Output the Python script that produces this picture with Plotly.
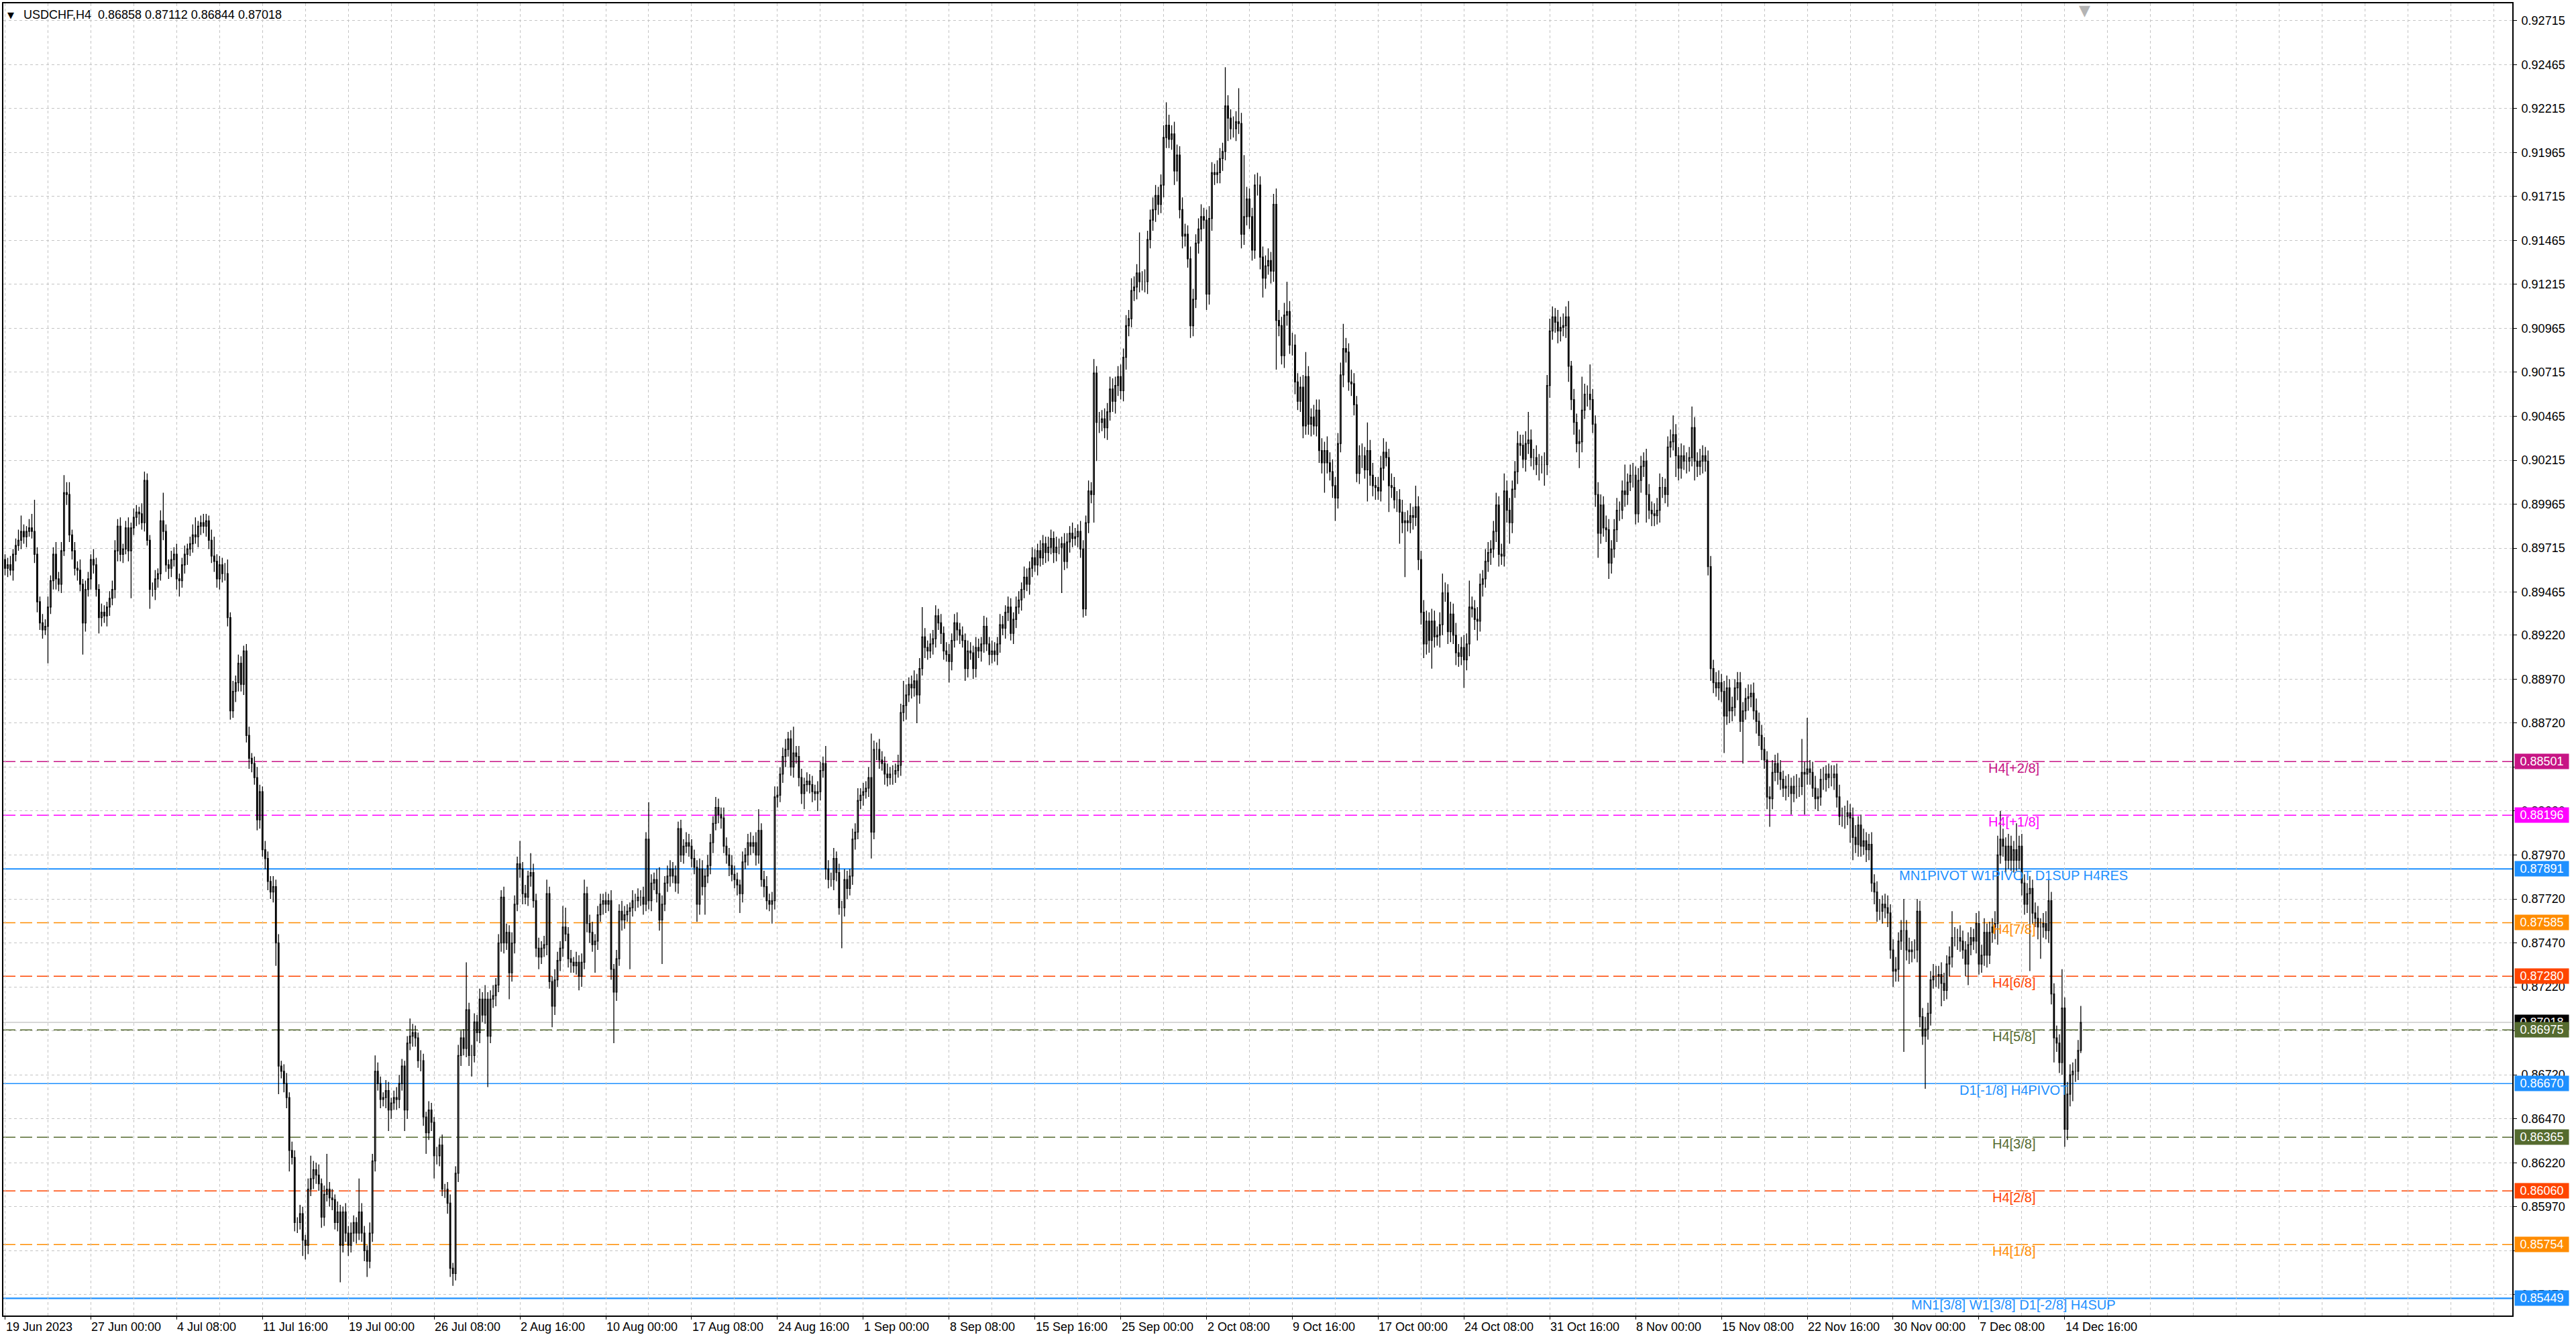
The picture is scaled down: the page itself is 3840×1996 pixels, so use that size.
import plotly.graph_objects as go

# ---------------- data (prices in 1e-5 units) ----------------
first_open = 89650
close_pts = [
    89600, 89620, 89590, 89680, 89730, 89760, 89810, 89780, 89810, 89830,  # 0
    89810, 89680, 89410, 89290, 89250, 89270, 89380, 89530, 89680, 89540,  # 10
    89510, 89700, 90030, 90020, 89790, 89700, 89600, 89590, 89510, 89290,  # 20
    89480, 89540, 89650, 89620, 89480, 89320, 89350, 89330, 89380, 89430,  # 30
    89480, 89700, 89840, 89680, 89710, 89830, 89700, 89830, 89890, 89920,  # 40
    89910, 89860, 90100, 89760, 89480, 89480, 89540, 89570, 89870, 89810,  # 50
    89620, 89600, 89650, 89680, 89540, 89530, 89620, 89680, 89710, 89740,  # 60
    89790, 89780, 89840, 89860, 89840, 89870, 89760, 89670, 89640, 89540,  # 70
    89620, 89570, 89570, 89320, 88790, 88900, 88950, 89060, 88940, 89130,  # 80
    88650, 88520, 88490, 88410, 88170, 88330, 88000, 87950, 87820, 87760,  # 90
    87790, 87470, 86770, 86740, 86670, 86590, 86290, 86250, 85880, 85880,  # 100
    85930, 85780, 85750, 86070, 86130, 86180, 86150, 86100, 85910, 86040,  # 110
    86070, 86020, 86010, 85880, 85940, 85750, 85940, 85820, 85750, 85820,  # 120
    85880, 85820, 85940, 85820, 85720, 85660, 85820, 86230, 86740, 86670,  # 130
    86580, 86590, 86630, 86520, 86560, 86590, 86580, 86670, 86770, 86520,  # 140
    86900, 86940, 86960, 86930, 86800, 86800, 86480, 86390, 86520, 86450,  # 150
    86260, 86260, 86320, 86070, 86070, 85990, 85620, 85590, 86160, 86830,  # 160
    86930, 86870, 87090, 86830, 86830, 87020, 86960, 87150, 87060, 87150,  # 170
    86940, 87150, 87170, 87230, 87470, 87730, 87470, 87530, 87300, 87470,  # 180
    87690, 87920, 87890, 87750, 87730, 87850, 87870, 87710, 87440, 87390,  # 190
    87440, 87460, 87750, 87250, 87110, 87260, 87370, 87440, 87560, 87520,  # 200
    87380, 87360, 87340, 87360, 87280, 87360, 87750, 87580, 87530, 87460,  # 210
    87480, 87630, 87690, 87710, 87690, 87710, 87320, 87190, 87380, 87650,  # 220
    87600, 87630, 87650, 87670, 87710, 87710, 87730, 87730, 87690, 88060,  # 230
    87710, 87810, 87830, 87750, 87600, 87690, 87810, 87850, 87890, 87850,  # 240
    87810, 88120, 87970, 88020, 88040, 88020, 87950, 87900, 87690, 87890,  # 250
    87790, 87850, 87910, 88040, 88150, 88240, 88200, 88180, 88020, 87970,  # 260
    87910, 87860, 87830, 87800, 87750, 87930, 87970, 88040, 88020, 88040,  # 270
    87970, 88110, 87830, 87790, 87710, 87690, 87710, 88300, 88310, 88430,  # 280
    88530, 88570, 88630, 88470, 88550, 88530, 88410, 88320, 88370, 88390,  # 290
    88370, 88330, 88320, 88330, 88450, 88490, 87890, 87830, 87830, 87950,  # 300
    87870, 87670, 87670, 87830, 87780, 87850, 88060, 88100, 88280, 88310,  # 310
    88330, 88350, 88410, 88100, 88570, 88570, 88510, 88490, 88430, 88410,  # 320
    88430, 88430, 88450, 88480, 88780, 88820, 88880, 88940, 88920, 88960,  # 330
    88880, 89030, 89210, 89150, 89130, 89170, 89200, 89330, 89290, 89230,  # 340
    89130, 89110, 89070, 89190, 89290, 89250, 89220, 89190, 89030, 89130,  # 350
    89120, 89030, 89150, 89130, 89170, 89270, 89170, 89110, 89130, 89110,  # 360
    89170, 89280, 89260, 89350, 89380, 89230, 89310, 89380, 89420, 89480,  # 370
    89550, 89510, 89600, 89660, 89620, 89700, 89660, 89740, 89690, 89720,  # 380
    89770, 89690, 89720, 89720, 89740, 89640, 89750, 89800, 89770, 89780,  # 390
    89810, 89710, 89370, 89860, 90040, 90020, 90710, 90430, 90430, 90450,  # 400
    90400, 90490, 90620, 90550, 90640, 90690, 90610, 90800, 90980, 91020,  # 410
    91180, 91200, 91280, 91230, 91230, 91230, 91470, 91580, 91640, 91720,  # 420
    91670, 91780, 92050, 92120, 92040, 92070, 91860, 91950, 91640, 91490,  # 430
    91500, 91360, 90980, 91130, 91450, 91530, 91600, 91580, 91160, 91590,  # 440
    91850, 91840, 91850, 91930, 91970, 92230, 92160, 92100, 92100, 92140,  # 450
    92130, 91500, 91600, 91700, 91600, 91410, 91780, 91780, 91370, 91250,  # 460
    91320, 91350, 91290, 91670, 91010, 90980, 90810, 91040, 91060, 90870,  # 470
    90870, 90660, 90550, 90630, 90410, 90690, 90420, 90460, 90410, 90500,  # 480
    90270, 90200, 90270, 90200, 90150, 90070, 90000, 90310, 90700, 90850,  # 490
    90830, 90660, 90650, 90530, 90140, 90240, 90240, 90160, 90270, 90130,  # 500
    90070, 90060, 90040, 90170, 90260, 90230, 90070, 90060, 89990, 89990,  # 510
    89920, 89860, 89870, 89860, 89900, 89890, 89950, 89650, 89350, 89170,  # 520
    89300, 89190, 89300, 89210, 89220, 89280, 89460, 89460, 89240, 89340,  # 530
    89220, 89120, 89100, 89150, 89080, 89170, 89380, 89370, 89310, 89300,  # 540
    89510, 89540, 89640, 89690, 89710, 89810, 89960, 89680, 89670, 90040,  # 550
    89930, 89860, 90050, 90150, 90310, 90300, 90220, 90310, 90330, 90230,  # 560
    90230, 90190, 90190, 90190, 90190, 90640, 90950, 91030, 91000, 90950,  # 570
    90970, 90980, 91030, 90750, 90560, 90430, 90310, 90320, 90500, 90590,  # 580
    90590, 90560, 90420, 90020, 89800, 89960, 89830, 89820, 89630, 89710,  # 590
    89820, 89930, 89930, 90040, 90020, 90090, 90130, 90130, 89910, 90100,  # 600
    90180, 90210, 90020, 89930, 89910, 89900, 89930, 90060, 90060, 90020,  # 610
    90290, 90320, 90360, 90240, 90170, 90240, 90210, 90210, 90230, 90400,  # 620
    90210, 90180, 90210, 90240, 90210, 89610, 89030, 88950, 88920, 88950,  # 630
    88900, 88760, 88920, 88790, 88810, 88920, 88950, 88730, 88790, 88860,  # 640
    88870, 88890, 88790, 88730, 88650, 88570, 88510, 88300, 88290, 88440,  # 650
    88490, 88440, 88400, 88350, 88360, 88360, 88320, 88360, 88360, 88360,  # 660
    88440, 88430, 88460, 88440, 88350, 88290, 88300, 88400, 88400, 88430,  # 670
    88410, 88410, 88430, 88300, 88190, 88190, 88190, 88210, 88180, 88070,  # 680
    88030, 88140, 88020, 88050, 88000, 88030, 87810, 87760, 87650, 87650,  # 690
    87690, 87670, 87640, 87430, 87310, 87320, 87480, 87540, 87540, 87430,  # 700
    87420, 87430, 87430, 87650, 87050, 86940, 86980, 87070, 87260, 87280,  # 710
    87280, 87290, 87240, 87200, 87350, 87390, 87500, 87500, 87500, 87480,  # 720
    87430, 87350, 87460, 87500, 87480, 87580, 87350, 87400, 87530, 87400,  # 730
    87530, 87560, 87580, 87970, 88060, 88020, 87940, 88020, 87940, 88000,  # 740
    87940, 88020, 87810, 87690, 87750, 87780, 87640, 87610, 87560, 87560,  # 750
    87580, 87540, 87710, 87180, 86930, 86900, 86790, 87100, 86410, 86610,  # 760
    86720, 86740, 86740, 86858, 87018,                                     # 770
]
wick_up = [
    30, 40, 50, 30, 40, 60, 90, 40, 30, 50,
    80, 180, 40, 30, 50, 40, 60, 30, 40, 70,
    40, 50, 100, 60, 70, 30, 50, 40, 60, 30,
    50, 40, 30, 60, 40, 30, 50, 40, 30, 40,
    50, 60, 40, 50, 30, 40, 60, 30, 50, 40,
    30, 60, 50, 40, 30, 40, 50, 30, 60, 160,
    40, 30, 50, 40, 60, 30, 40, 50, 30, 40,
    60, 100, 30, 40, 50, 40, 30, 60, 110, 40,
    50, 40, 60, 80, 30, 60, 40, 50, 40, 30,
    40, 50, 30, 40, 60, 40, 30, 50, 40, 30,
    60, 40, 50, 30, 40, 60, 30, 50, 40, 30,
    50, 40, 30, 60, 130, 50, 40, 60, 30, 50,
    200, 40, 50, 30, 60, 40, 30, 50, 40, 60,
    40, 30, 190, 50, 40, 30, 60, 40, 90, 50,
    40, 30, 60, 50, 30, 40, 60, 50, 40, 30,
    40, 100, 50, 40, 30, 60, 40, 30, 50, 40,
    30, 50, 40, 60, 30, 40, 50, 30, 40, 60,
    40, 50, 270, 40, 60, 50, 40, 60, 40, 80,
    40, 50, 60, 40, 50, 40, 60, 50, 40, 60,
    50, 40, 130, 40, 50, 30, 110, 50, 40, 60,
    40, 50, 80, 40, 30, 60, 50, 40, 120, 110,
    40, 50, 30, 60, 40, 50, 80, 40, 50, 60,
    40, 50, 60, 40, 50, 40, 60, 30, 50, 40,
    60, 50, 40, 30, 60, 40, 50, 40, 60, 40,
    210, 50, 40, 60, 150, 50, 40, 60, 50, 40,
    60, 40, 50, 40, 60, 50, 40, 50, 40, 60,
    50, 40, 60, 50, 40, 60, 50, 40, 60, 50,
    40, 60, 50, 40, 30, 60, 40, 50, 60, 40,
    60, 120, 40, 50, 60, 40, 50, 60, 50, 40,
    50, 60, 40, 50, 150, 40, 60, 50, 40, 50,
    40, 50, 40, 60, 50, 40, 100, 50, 40, 60,
    40, 50, 40, 60, 50, 40, 60, 50, 70, 40,
    50, 40, 60, 250, 50, 40, 60, 50, 40, 60,
    40, 50, 40, 60, 50, 140, 60, 40, 50, 60,
    40, 60, 170, 50, 40, 60, 50, 60, 40, 50,
    40, 50, 60, 40, 50, 60, 40, 50, 40, 60,
    50, 40, 60, 50, 40, 60, 50, 40, 60, 50,
    40, 60, 50, 40, 60, 50, 40, 60, 50, 40,
    60, 50, 40, 60, 50, 40, 60, 50, 40, 60,
    50, 40, 60, 50, 40, 60, 50, 40, 60, 50,
    40, 60, 50, 40, 60, 50, 80, 40, 60, 50,
    60, 50, 70, 60, 50, 60, 70, 50, 60, 50,
    70, 60, 50, 230, 60, 70, 50, 60, 70, 60,
    50, 60, 70, 130, 60, 50, 70, 60, 50, 70,
    60, 50, 70, 60, 50, 60, 70, 50, 60, 70,
    60, 50, 70, 60, 50, 220, 60, 50, 70, 60,
    190, 60, 350, 70, 60, 50, 60, 70, 50, 60,
    60, 70, 50, 60, 90, 60, 50, 70, 170, 60,
    70, 60, 50, 60, 70, 140, 60, 50, 70, 60,
    60, 70, 50, 80, 60, 70, 50, 60, 70, 140,
    60, 50, 70, 60, 50, 60, 70, 50, 160, 60,
    70, 50, 60, 70, 80, 60, 50, 70, 60, 50,
    60, 70, 50, 60, 70, 50, 120, 60, 50, 70,
    60, 50, 70, 60, 50, 70, 110, 60, 50, 70,
    60, 70, 50, 60, 70, 60, 150, 60, 50, 70,
    60, 50, 70, 60, 50, 60, 70, 50, 60, 100,
    60, 70, 50, 60, 70, 50, 60, 70, 160, 60,
    50, 70, 60, 50, 70, 60, 70, 60, 50, 70,
    60, 70, 60, 90, 30, 60, 50, 70, 190, 60,
    50, 170, 60, 50, 70, 60, 50, 70, 60, 50,
    60, 70, 50, 60, 150, 50, 60, 70, 50, 70,
    60, 50, 70, 60, 50, 60, 70, 80, 60, 50,
    60, 70, 110, 60, 50, 70, 60, 50, 60, 120,
    60, 50, 70, 60, 50, 60, 60, 50, 60, 70,
    50, 60, 70, 50, 60, 50, 60, 60, 50, 60,
    70, 50, 60, 70, 50, 60, 70, 50, 60, 70,
    50, 60, 70, 50, 60, 70, 50, 60, 70, 50,
    190, 60, 290, 50, 60, 70, 50, 60, 70, 50,
    60, 70, 50, 60, 70, 50, 60, 70, 50, 60,
    70, 50, 60, 70, 50, 60, 70, 50, 60, 70,
    50, 60, 70, 50, 60, 70, 50, 60, 180, 60,
    70, 50, 60, 70, 60, 50, 70, 60, 50, 70,
    60, 50, 70, 60, 50, 60, 150, 60, 50, 70,
    60, 50, 70, 60, 50, 60, 70, 60, 80, 50,
    60, 50, 70, 110, 160, 60, 50, 70, 60, 50,
    150, 60, 70, 50, 60, 70, 50, 60, 70, 50,
    60, 70, 120, 50, 60, 70, 50, 220, 60, 70,
    60, 50, 70, 60, 94,
]
wick_dn = [
    40, 50, 30, 60, 40, 30, 50, 40, 60, 30,
    40, 50, 60, 40, 50, 30, 210, 40, 50, 60,
    40, 50, 30, 60, 40, 50, 40, 60, 40, 180,
    50, 40, 60, 50, 40, 90, 50, 40, 60, 50,
    40, 50, 60, 40, 50, 30, 60, 270, 40, 50,
    60, 40, 50, 30, 110, 40, 60, 50, 40, 50,
    40, 60, 50, 40, 60, 90, 40, 50, 60, 40,
    50, 40, 60, 50, 40, 60, 50, 40, 60, 50,
    60, 50, 40, 50, 50, 40, 60, 50, 40, 60,
    40, 60, 50, 40, 60, 50, 40, 60, 50, 40,
    60, 130, 160, 40, 50, 60, 120, 40, 50, 60,
    40, 90, 80, 50, 40, 60, 50, 40, 60, 50,
    40, 50, 60, 40, 50, 210, 40, 50, 60, 40,
    50, 60, 40, 50, 60, 90, 40, 50, 60, 40,
    50, 40, 60, 120, 50, 40, 60, 50, 40, 120,
    50, 40, 60, 50, 40, 60, 50, 120, 40, 50,
    130, 50, 60, 40, 50, 60, 50, 70, 40, 50,
    60, 40, 50, 60, 120, 40, 50, 60, 40, 50,
    290, 40, 50, 60, 40, 50, 60, 40, 150, 50,
    60, 40, 50, 60, 40, 50, 60, 40, 50, 70,
    40, 50, 60, 40, 120, 50, 40, 60, 50, 40,
    50, 60, 40, 50, 80, 60, 40, 50, 60, 40,
    160, 50, 40, 60, 50, 40, 60, 290, 50, 40,
    60, 50, 40, 330, 50, 60, 40, 50, 60, 40,
    50, 60, 40, 50, 60, 250, 40, 50, 60, 40,
    50, 60, 40, 50, 40, 60, 50, 40, 100, 60,
    50, 160, 40, 50, 60, 40, 50, 60, 40, 50,
    60, 40, 50, 60, 110, 50, 40, 60, 50, 40,
    60, 50, 40, 60, 50, 40, 110, 50, 60, 40,
    50, 60, 40, 50, 60, 40, 50, 60, 90, 40,
    50, 60, 40, 100, 50, 40, 60, 50, 40, 60,
    50, 40, 230, 50, 60, 40, 50, 60, 40, 50,
    60, 40, 50, 150, 40, 60, 50, 40, 60, 50,
    40, 60, 50, 40, 60, 50, 80, 40, 60, 50,
    160, 50, 40, 60, 50, 40, 60, 50, 40, 60,
    50, 40, 120, 50, 40, 60, 50, 40, 70, 50,
    40, 60, 50, 40, 60, 50, 40, 60, 50, 40,
    60, 50, 40, 60, 50, 40, 60, 50, 40, 60,
    50, 40, 60, 50, 40, 60, 50, 40, 60, 50,
    40, 60, 50, 40, 260, 50, 40, 60, 50, 40,
    60, 50, 50, 40, 60, 50, 160, 220, 60, 50,
    60, 70, 50, 60, 70, 60, 50, 60, 70, 60,
    50, 60, 70, 60, 50, 60, 70, 50, 60, 70,
    60, 50, 70, 60, 50, 60, 80, 60, 50, 70,
    60, 50, 70, 60, 50, 60, 70, 50, 90, 60,
    70, 60, 50, 60, 70, 50, 130, 60, 50, 70,
    60, 80, 60, 50, 70, 60, 50, 60, 70, 110,
    60, 50, 70, 60, 280, 60, 50, 70, 60, 50,
    60, 70, 50, 60, 70, 50, 60, 70, 50, 60,
    70, 60, 170, 60, 50, 70, 130, 60, 50, 70,
    60, 50, 70, 60, 50, 60, 70, 50, 180, 60,
    60, 70, 50, 60, 70, 50, 150, 60, 50, 70,
    180, 60, 310, 50, 60, 70, 50, 60, 70, 80,
    60, 70, 160, 60, 50, 70, 60, 50, 70, 60,
    50, 70, 60, 50, 160, 60, 70, 50, 60, 110,
    60, 70, 50, 60, 70, 50, 60, 70, 50, 60,
    70, 120, 60, 50, 70, 60, 50, 70, 60, 50,
    70, 60, 90, 50, 120, 60, 70, 50, 60, 70,
    60, 50, 70, 90, 60, 70, 50, 140, 60, 50,
    70, 60, 50, 70, 140, 60, 50, 70, 90, 60,
    50, 70, 60, 50, 70, 60, 50, 70, 60, 50,
    70, 60, 160, 50, 70, 60, 50, 70, 60, 50,
    70, 60, 50, 120, 70, 60, 50, 70, 60, 50,
    110, 60, 50, 70, 60, 50, 70, 60, 50, 70,
    60, 210, 50, 70, 60, 50, 70, 60, 240, 50,
    70, 60, 50, 70, 60, 60, 50, 70, 160, 60,
    50, 70, 60, 50, 70, 60, 120, 50, 70, 60,
    50, 230, 60, 70, 50, 60, 70, 50, 60, 70,
    60, 50, 70, 60, 50, 60, 70, 50, 140, 130,
    50, 70, 60, 50, 70, 60, 50, 70, 60, 50,
    70, 60, 80, 50, 90, 60, 70, 50, 690, 60,
    70, 60, 50, 70, 60, 50, 300, 60, 70, 50,
    60, 70, 130, 60, 50, 70, 60, 50, 70, 60,
    50, 70, 120, 60, 50, 70, 60, 50, 60, 70,
    50, 60, 70, 120, 50, 60, 70, 50, 60, 70,
    60, 50, 70, 60, 50, 440, 60, 50, 70, 180,
    60, 50, 70, 60, 140, 50, 60, 70, 100, 60,
    70, 150, 60, 50, 14,
]

x_label_bars = [0, 32, 64, 96, 128, 160, 192, 224, 256, 288, 320, 352, 384,
                416, 448, 480, 512, 544, 576, 608, 640, 672, 704, 736, 768]
x_label_text = ["19 Jun 2023", "27 Jun 00:00", "4 Jul 08:00", "11 Jul 16:00",
                "19 Jul 00:00", "26 Jul 08:00", "2 Aug 16:00", "10 Aug 00:00",
                "17 Aug 08:00", "24 Aug 16:00", "1 Sep 00:00", "8 Sep 08:00",
                "15 Sep 16:00", "25 Sep 00:00", "2 Oct 08:00", "9 Oct 16:00",
                "17 Oct 00:00", "24 Oct 08:00", "31 Oct 16:00", "8 Nov 00:00",
                "15 Nov 08:00", "22 Nov 16:00", "30 Nov 00:00", "7 Dec 08:00",
                "14 Dec 16:00"]
y_tick_values = [0.92715, 0.92465, 0.92215, 0.91965, 0.91715, 0.91465,
                 0.91215, 0.90965, 0.90715, 0.90465, 0.90215, 0.89965,
                 0.89715, 0.89465, 0.89220, 0.88970, 0.88720, 0.88470,
                 0.88220, 0.87970, 0.87720, 0.87470, 0.87220, 0.86970,
                 0.86720, 0.86470, 0.86220, 0.85970, 0.85720, 0.85470]
# labels hidden behind the coloured price boxes in the original are left blank
y_tick_text = ["0.92715", "0.92465", "0.92215", "0.91965", "0.91715", "0.91465",
               "0.91215", "0.90965", "0.90715", "0.90465", "0.90215", "0.89965",
               "0.89715", "0.89465", "0.89220", "0.88970", "0.88720", "",
               "0.88220", "0.87970", "0.87720", "0.87470", "0.87220", "",
               "0.86720", "0.86470", "0.86220", "0.85970", "", "0.85470"]

level_values = [0.88501, 0.88196, 0.87891, 0.87585, 0.87280, 0.86975,
                0.86670, 0.86365, 0.86060, 0.85754, 0.85449]
level_names = ["H4[+2/8]", "H4[+1/8]", "MN1PIVOT W1PIVOT D1SUP H4RES", "H4[7/8]",
               "H4[6/8]", "H4[5/8]", "D1[-1/8] H4PIVOT", "H4[3/8]", "H4[2/8]",
               "H4[1/8]", "MN1[3/8] W1[3/8] D1[-2/8] H4SUP"]
level_colors = ["#C71585", "#FF00FF", "#1E90FF", "#FF8C00", "#FF4500", "#556B2F",
                "#1E90FF", "#556B2F", "#FF4500", "#FF8C00", "#1E90FF"]
level_dashed = [True, True, False, True, True, True, False, True, True, True, False]
level_widths = [1.5, 1.5, 2.0, 1.5, 1.5, 1.5, 1.3, 1.5, 1.5, 1.5, 2.2]
level_label_bar = 749

last_price = 0.87018
title_text = "USDCHF,H4  0.86858 0.87112 0.86844 0.87018"

# ---------------- build OHLC ----------------
assert len(close_pts) == len(wick_up) == len(wick_dn), (len(close_pts), len(wick_up), len(wick_dn))
N = len(close_pts)
sc = 1e-5
open_pts = [first_open] + close_pts[:-1]
high_pts = [max(o, c) + w for o, c, w in zip(open_pts, close_pts, wick_up)]
low_pts = [min(o, c) - w for o, c, w in zip(open_pts, close_pts, wick_dn)]
xs = list(range(N))

FONT = "Liberation Sans, Arial, sans-serif"
GRID = "#c4c4c4"

fig = go.Figure(go.Candlestick(
    x=xs,
    open=[v * sc for v in open_pts],
    high=[v * sc for v in high_pts],
    low=[v * sc for v in low_pts],
    close=[v * sc for v in close_pts],
    increasing=dict(line=dict(color="black", width=1.3), fillcolor="white"),
    decreasing=dict(line=dict(color="black", width=1.3), fillcolor="black"),
    whiskerwidth=0,
    hoverinfo="skip",
    showlegend=False,
))

shapes = []
annotations = []
for v, name, col, dashed, w in zip(level_values, level_names, level_colors,
                                   level_dashed, level_widths):
    shapes.append(dict(type="line", xref="paper", x0=0, x1=1, yref="y", y0=v, y1=v,
                       line=dict(color=col, width=w, dash="18px,7px" if dashed else "solid"),
                       layer="between"))
    annotations.append(dict(x=level_label_bar, y=v, xref="x", yref="y", text=name,
                            showarrow=False, xanchor="center", yanchor="middle",
                            yshift=-10, font=dict(family=FONT, size=20, color=col)))

# current price line
shapes.append(dict(type="line", xref="paper", x0=0, x1=1, yref="y", y0=last_price,
                   y1=last_price, line=dict(color="#b0b0b0", width=1), layer="between"))

# right-hand price boxes
box_vals = [last_price] + level_values
box_cols = ["#000000"] + level_colors
for v, col in zip(box_vals, box_cols):
    annotations.append(dict(x=1, y=v, xref="paper", yref="y", text=f"{v:.5f}",
                            showarrow=False, xanchor="left", yanchor="middle",
                            xshift=3, width=78, height=20, borderpad=1,
                            bgcolor=col, align="center",
                            font=dict(family=FONT, size=18, color="white")))

# x axis labels (left-aligned at tick like MT4)
for b, t in zip(x_label_bars, x_label_text):
    annotations.append(dict(x=b, y=0, xref="x", yref="paper", text=t, showarrow=False,
                            xanchor="left", yanchor="top", yshift=-5, xshift=-1,
                            font=dict(family=FONT, size=18, color="black")))

# title
annotations.append(dict(x=0, y=1, xref="paper", yref="paper", text="▼",
                        showarrow=False, xanchor="left", yanchor="middle",
                        xshift=4, yshift=-17,
                        font=dict(family="DejaVu Sans", size=13, color="black")))
annotations.append(dict(x=0, y=1, xref="paper", yref="paper", text=title_text,
                        showarrow=False, xanchor="left", yanchor="middle",
                        xshift=28, yshift=-17,
                        font=dict(family=FONT, size=18, color="black")))
# chart shift marker
annotations.append(dict(x=N + 0.5, y=1, xref="x", yref="paper", text="▼",
                        showarrow=False, xanchor="center", yanchor="top",
                        yshift=4, font=dict(family="DejaVu Sans", size=22, color="#b4b4b4")))

x0 = -0.625
fig.update_layout(
    width=3840, height=1996,
    margin=dict(l=3, r=95, t=3, b=35),
    paper_bgcolor="white", plot_bgcolor="white",
    showlegend=False,
    font=dict(family=FONT, size=18, color="black"),
    shapes=shapes, annotations=annotations,
    hovermode=False,
    boxgap=0.45,
)
fig.update_xaxes(
    range=[x0, x0 + 3742 / 4.0], rangeslider_visible=False,
    tickvals=x_label_bars, showticklabels=False,
    ticks="outside", ticklen=4, tickcolor="black", tickwidth=1,
    showgrid=True, gridcolor=GRID, griddash="4px,4px", gridwidth=1,
    minor=dict(tick0=0, dtick=16, showgrid=True, gridcolor=GRID,
               griddash="4px,4px", gridwidth=1, ticks=""),
    showline=True, linecolor="black", linewidth=2, mirror=True, zeroline=False,
)
fig.update_yaxes(
    side="right", range=[0.85351, 0.92813],
    tickvals=y_tick_values, ticktext=y_tick_text,
    ticks="outside", ticklen=5, tickcolor="black", ticklabelstandoff=3,
    tickfont=dict(family=FONT, size=18, color="black"),
    showgrid=True, gridcolor=GRID, griddash="4px,4px", gridwidth=1,
    showline=True, linecolor="black", linewidth=2, mirror=True, zeroline=False,
)

fig.write_html("out.html", config={"displayModeBar": False},
               post_script="document.body.style.margin='0px';")
